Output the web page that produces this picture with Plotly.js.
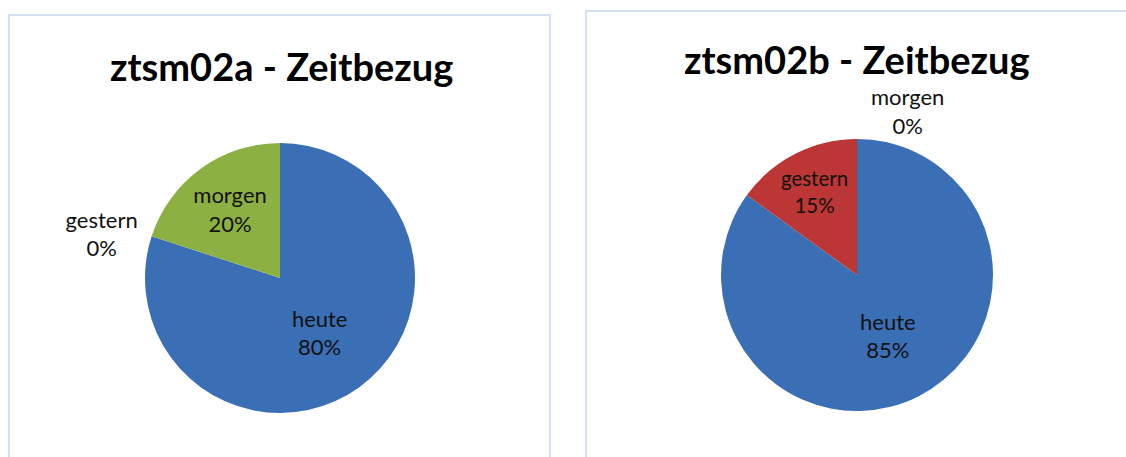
<!DOCTYPE html>
<html>
<head>
<meta charset="utf-8">
<script src="https://cdn.plot.ly/plotly-3.0.1.min.js"></script>
<style>html,body{margin:0;padding:0;background:#fff;}#chart{width:1126px;height:457px;}</style>
</head>
<body>
<div id="chart"></div>
<script>
const categories = ["heute", "gestern", "morgen"];
const titles = ["ztsm02a - Zeitbezug", "ztsm02b - Zeitbezug"];
const valuesA = [80, 0, 20];
const valuesB = [85, 15, 0];
const colorsA = ["#3A6FB6", "#C03838", "#8DB043"];
const colorsB = ["#3A6FB6", "#BD3636", "#8DB043"];

const W = 1126, H = 457;
const px = x => x / W;
const py = y => 1 - y / H;
const fontFam = "Lato, 'Open Sans', sans-serif";
const lblFont = {family: fontFam, size: 22, color: "#111111"};

const common = {
  type: "pie",
  labels: categories,
  sort: false,
  direction: "clockwise",
  rotation: 0,
  textinfo: "label+percent",
  insidetextorientation: "horizontal",
  textfont: lblFont,
  outsidetextfont: lblFont,
  insidetextfont: lblFont,
  showlegend: false,
  hoverinfo: "label+percent",
  automargin: false
};

const traceA = Object.assign({}, common, {
  values: valuesA,
  marker: {colors: colorsA, line: {width: 0}},
  textposition: ["inside", "outside", "inside"],
  domain: {x: [px(145), px(415)], y: [py(413), py(143)]}
});
const traceB = Object.assign({}, common, {
  values: valuesB,
  marker: {colors: colorsB, line: {width: 0}},
  textposition: ["inside", "inside", "outside"],
  domain: {x: [px(721), px(993)], y: [py(411), py(139)]}
});

const layout = {
  width: W, height: H,
  margin: {l: 0, r: 0, t: 0, b: 0},
  paper_bgcolor: "#ffffff",
  font: {family: fontFam},
  shapes: [
    {type: "rect", xref: "paper", yref: "paper", x0: px(9), x1: px(550), y0: -0.05, y1: py(15),
     line: {color: "#D5E0F0", width: 2}},
    {type: "rect", xref: "paper", yref: "paper", x0: px(586), x1: 1.05, y0: -0.05, y1: py(11),
     line: {color: "#D5E0F0", width: 2}}
  ],
  annotations: [
    {text: "<b>" + titles[0] + "</b>", xref: "paper", yref: "paper", x: px(281), y: py(66),
     xanchor: "center", yanchor: "middle",
     showarrow: false, font: {family: fontFam, size: 38, color: "#000"}},
    {text: "<b>" + titles[1] + "</b>", xref: "paper", yref: "paper", x: px(857), y: py(59),
     xanchor: "center", yanchor: "middle",
     showarrow: false, font: {family: fontFam, size: 38, color: "#000"}}
  ]
};

Plotly.newPlot("chart", [traceA, traceB], layout, {displayModeBar: false, staticPlot: true});
</script>
</body>
</html>
